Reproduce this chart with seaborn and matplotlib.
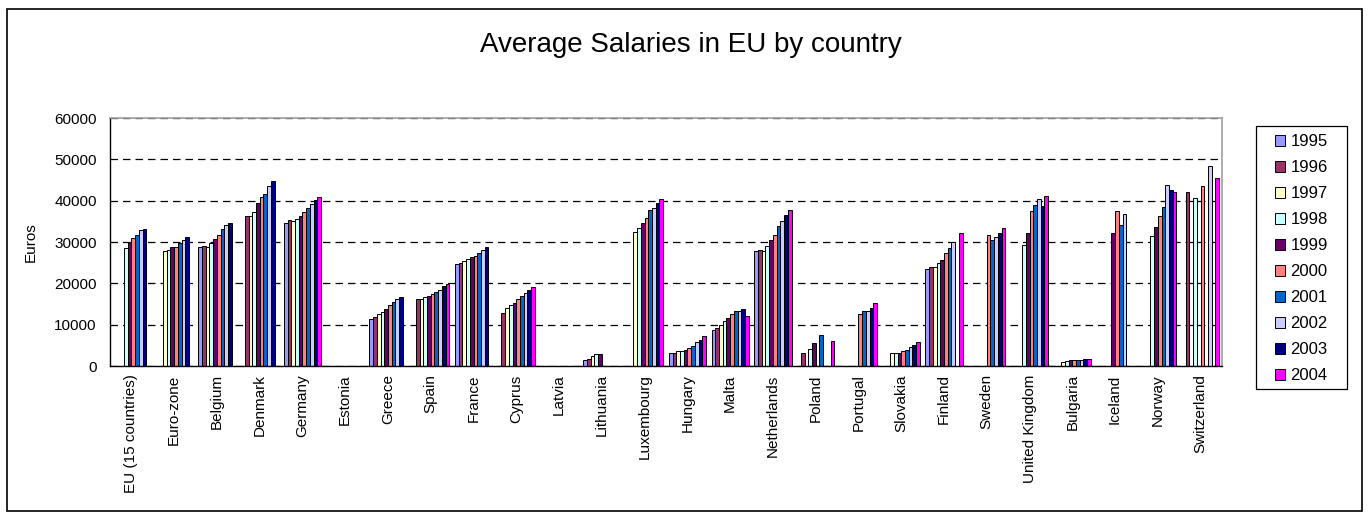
import numpy as np
import pandas as pd
import matplotlib
matplotlib.use("Agg")
import matplotlib.pyplot as plt
import matplotlib.patches as mpatches
import seaborn as sns

n = np.nan
countries = ["EU (15 countries)", "Euro-zone", "Belgium", "Denmark", "Germany", "Estonia",
             "Greece", "Spain", "France", "Cyprus", "Latvia", "Lithuania", "Luxembourg",
             "Hungary", "Malta", "Netherlands", "Poland", "Portugal", "Slovakia", "Finland",
             "Sweden", "United Kingdom", "Bulgaria", "Iceland", "Norway", "Switzerland"]
years = ["1995", "1996", "1997", "1998", "1999", "2000", "2001", "2002", "2003", "2004"]

s1995 = [n, n, 28900, n, 34500, n, 11400, n, 24600, n, n, 1400, n, 3100, 8700, 27900, n, n, n, 23500, n, n, n, n, n, n]
s1996 = [n, n, 29100, 36400, 35300, n, 11900, 16100, 25000, 12900, n, 1600, n, 3100, 9300, 28000, 3100, n, n, 23900, n, n, n, n, n, 42200]
s1997 = [n, 27800, 28900, 36200, 35100, n, 12500, 16200, 25400, 14100, n, 2300, 32500, 3600, 10000, 27900, n, n, 3100, 23900, n, n, 1000, n, n, n]
s1998 = [28500, 28100, 29700, 37200, 35500, n, 13100, 16600, 25800, 14700, n, 2800, 33400, 3700, 10800, 29000, 4200, n, 3200, 24900, n, 29200, 1100, n, 31400, 40600]
s1999 = [29900, 28800, 30700, 39500, 36300, n, 13900, 17000, 26400, 15200, n, 3000, 34500, 3900, 11600, 30500, 5500, n, 3100, 25600, n, 32100, 1400, 32100, 33700, n]
s2000 = [31000, 28800, 31700, 40900, 37200, n, 14700, 17400, 26600, 16300, n, n, 35800, 4300, 12500, 31800, n, 12500, 3700, 27300, 31600, 37600, 1400, 37600, 36300, 43500]
s2001 = [31800, 29700, 33100, 41600, 38200, n, 15400, 17800, 27300, 17000, n, n, 37700, 4800, 13200, 33800, 7500, 13300, 3900, 28500, 30500, 39000, 1500, 34100, 38500, n]
s2002 = [32800, 30500, 34200, 43500, 39100, n, 16200, 18500, 28100, 17700, n, n, 38300, 5800, 13400, 35100, n, 13300, 4700, 29900, 31100, 40400, 1500, 36800, 43700, 48300]
s2003 = [33100, 31200, 34700, 44700, 40100, n, 16800, 19300, 28900, 18300, n, n, 39400, 6200, 13700, 36500, n, 14000, 5000, n, 32100, 38700, 1700, n, 42700, n]
s2004 = [n, n, n, n, 40900, n, n, 19900, n, 19200, n, n, 40400, 7200, 12000, 37700, 6100, 15200, 5800, 32100, 33400, 41100, 1700, n, 42200, 45600]

series = [s1995, s1996, s1997, s1998, s1999, s2000, s2001, s2002, s2003, s2004]
colors = ["#9999FF", "#993366", "#FFFFCC", "#CCFFFF", "#660066",
          "#FF8080", "#0066CC", "#CCCCFF", "#000080", "#FF00FF"]

rows = []
for yr, vals in zip(years, series):
    for c, v in zip(countries, vals):
        if not np.isnan(v):
            rows.append({"country": c, "year": yr, "value": v})
df = pd.DataFrame(rows)

sns.set_style("white")
plt.rcParams["font.family"] = ["Liberation Sans", "DejaVu Sans"]
plt.rcParams["text.color"] = "black"
plt.rcParams["axes.labelcolor"] = "black"
plt.rcParams["xtick.color"] = "black"
plt.rcParams["ytick.color"] = "black"

W, H = 1368, 513
fig = plt.figure(figsize=(W / 100, H / 100), dpi=100)
L, R, T, B = 110, 1222, 118, 366
ax = fig.add_axes([L / W, 1 - B / H, (R - L) / W, (B - T) / H])

sns.barplot(data=df, x="country", y="value", hue="year", order=countries,
            hue_order=years, palette=colors, width=0.87, gap=0, errorbar=None,
            edgecolor="black", linewidth=0.7, ax=ax, legend=False, saturation=1)

ax.set_xlim(-0.5, len(countries) - 0.5)
ax.set_ylim(0, 60000)
ax.set_yticks(range(0, 60001, 10000))
ax.set_yticklabels([str(v) for v in range(0, 60001, 10000)], fontsize=11, color="black")
ax.set_xticks(range(len(countries)))
ax.set_xticklabels(countries, rotation=90, fontsize=11, color="black")
ax.set_xticks(np.arange(-0.5, len(countries), 1), minor=True)
ax.tick_params(axis="x", which="major", length=0, pad=6)
ax.tick_params(axis="x", which="minor", length=5, width=1, color="black", direction="out")
ax.tick_params(axis="y", length=9, width=1, color="black", direction="inout", pad=5)
ax.set_xlabel("")
ax.set_ylabel("Euros", fontsize=11, color="black")
ax.yaxis.set_label_coords((38 - L) / (R - L), 0.5)

ax.set_axisbelow(True)
ax.yaxis.grid(True, color="black", linestyle=(0, (6, 4)), linewidth=0.9)
ax.xaxis.grid(False)
for s in ["top", "right"]:
    ax.spines[s].set_color("#A0A0A0")
    ax.spines[s].set_linewidth(1.2)
for s in ["left", "bottom"]:
    ax.spines[s].set_color("black")
    ax.spines[s].set_linewidth(1)

# legend box (frame drawn separately to match the wide side padding)
legbox = mpatches.Rectangle((1256 / W, 1 - 389 / H), (1347 - 1256) / W, (389 - 126) / H,
                            transform=fig.transFigure, facecolor="white", edgecolor="black",
                            linewidth=0.9)
fig.patches.append(legbox)
handles = [mpatches.Patch(facecolor=c, edgecolor="black", linewidth=0.7, label=y)
           for c, y in zip(colors, years)]
leg = fig.legend(handles=handles, loc="upper left", bbox_to_anchor=(1275 / W, 1 - 134 / H),
                 fontsize=12, frameon=False, handlelength=0.62, handleheight=0.62,
                 handletextpad=0.3, labelspacing=0.66, borderpad=0, borderaxespad=0,
                 labelcolor="black")

fig.text(691 / W, 1 - 45 / H, "Average Salaries in EU by country", fontsize=20,
         ha="center", va="center", color="black")

border = mpatches.Rectangle((7 / W, 1 - 511 / H), (1362 - 7) / W, (511 - 9) / H,
                            transform=fig.transFigure, fill=False, edgecolor="black",
                            linewidth=1.2)
fig.patches.append(border)

fig.savefig("out.png", dpi=100)
